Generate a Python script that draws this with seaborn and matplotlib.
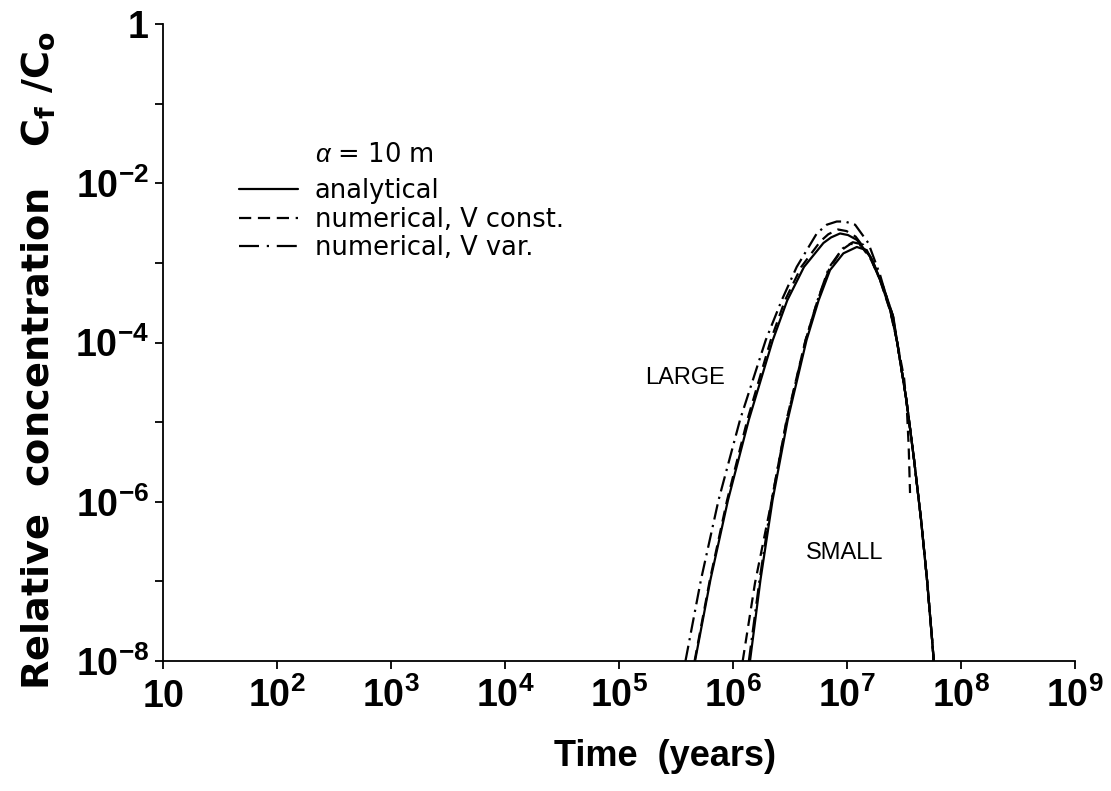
import numpy as np
import matplotlib
matplotlib.use("Agg")
import matplotlib.pyplot as plt
import seaborn as sns
from matplotlib.lines import Line2D
from matplotlib.ticker import NullLocator, FixedLocator, FixedFormatter

# ---- breakthrough curves, stored as log10(time [years]) and log10(Cf/Co) ----
# common falling limb shared by the curves once they merge
tail_logt = [7.436, 7.520, 7.588, 7.649, 7.701, 7.746, 7.760]
tail_logc = [-3.97, -4.72, -5.48, -6.23, -6.98, -7.74, -8.0]

large_analytical_logt = [5.666, 5.801, 5.955, 6.138, 6.348, 6.475, 6.622, 6.792, 6.859, 6.938,
                         7.008, 7.085, 7.201, 7.289, 7.377] + tail_logt
large_analytical_logc = [-8.0, -6.98, -5.98, -4.97, -3.97, -3.47, -3.05, -2.75, -2.68, -2.63,
                         -2.65, -2.71, -2.92, -3.21, -3.59] + tail_logc

large_vconst_logt = [5.662, 5.796, 5.947, 6.125, 6.330, 6.455, 6.598, 6.765, 6.835, 6.920,
                     6.995, 7.075, 7.195, 7.285, 7.375] + tail_logt
large_vconst_logc = [-8.0, -6.98, -5.98, -4.97, -3.97, -3.47, -3.05, -2.73, -2.64, -2.58,
                     -2.60, -2.67, -2.90, -3.20, -3.59] + tail_logc

large_vvar_logt = [5.582, 5.718, 5.872, 6.061, 6.286, 6.426, 6.558, 6.734, 6.822, 6.909,
                   6.980, 7.070, 7.186, 7.289, 7.380] + tail_logt
large_vvar_logc = [-8.0, -6.98, -5.98, -4.97, -3.97, -3.47, -3.05, -2.63, -2.52, -2.48,
                   -2.48, -2.52, -2.75, -3.15, -3.60] + tail_logc

small_analytical_logt = [6.148, 6.240, 6.346, 6.479, 6.644, 6.750, 6.850, 6.967, 7.085, 7.172,
                         7.230, 7.318, 7.406] + tail_logt
small_analytical_logc = [-8.0, -6.98, -5.98, -4.97, -3.97, -3.47, -3.09, -2.88, -2.80, -2.84,
                         -3.00, -3.30, -3.68] + tail_logc

small_vconst_logt = [6.084, 6.192, 6.339, 6.469, 6.635, 6.741, 6.842, 6.95, 7.03, 7.12, 7.21,
                     7.31, 7.40, 7.436, 7.50, 7.523, 7.54, 7.552]
small_vconst_logc = [-8.0, -7.02, -5.98, -4.97, -3.97, -3.47, -3.08, -2.84, -2.76, -2.78, -2.96,
                     -3.28, -3.66, -3.97, -4.45, -4.80, -5.30, -5.89]

small_vvar_logt = [6.138, 6.232, 6.338, 6.472, 6.636, 6.743, 6.840, 6.960, 7.050, 7.140, 7.220,
                   7.310, 7.400] + tail_logt
small_vvar_logc = [-8.0, -6.98, -5.98, -4.97, -3.97, -3.46, -3.06, -2.82, -2.74, -2.77, -2.96,
                   -3.28, -3.66] + tail_logc

# ---- axis ticks ----
x_tick_exps = [1, 2, 3, 4, 5, 6, 7, 8, 9]
x_tick_labels = ["10", "10^{2}", "10^{3}", "10^{4}", "10^{5}", "10^{6}", "10^{7}", "10^{8}", "10^{9}"]
y_tick_exps = [-8, -7, -6, -5, -4, -3, -2, -1, 0]
y_tick_labels = ["10^{-8}", "", "10^{-6}", "", "10^{-4}", "", "10^{-2}", "", "1"]

legend_labels = ["analytical", "numerical, V const.", "numerical, V var."]

# ---- style ----
sns.set_theme(style="ticks")
plt.rcParams.update({
    "font.family": ["DejaVu Sans"],
    "text.color": "black",
    "axes.labelcolor": "black",
    "mathtext.fontset": "custom",
    "mathtext.rm": "Liberation Sans",
    "mathtext.it": "Liberation Sans:italic",
    "mathtext.bf": "Liberation Sans:bold",
    "mathtext.sf": "DejaVu Sans:bold",
    "axes.linewidth": 1.3,
    "axes.edgecolor": "black",
    "xtick.color": "black",
    "ytick.color": "black",
    "xtick.major.width": 1.3,
    "ytick.major.width": 1.3,
    "xtick.major.size": 6,
    "ytick.major.size": 6,
    "xtick.direction": "out",
    "ytick.direction": "out",
})

SOLID = "-"
DASHED = (0, (5.0, 3.0))
DASHDOT = (0, (7.0, 2.5, 1.0, 2.5))
LW = 1.6

fig = plt.figure(figsize=(11.11, 7.91), dpi=100)
ax = fig.add_axes([0.1468, 0.1643, 0.8209, 0.8053])
ax.set_xscale("log")
ax.set_yscale("log")

curves = [
    (large_analytical_logt, large_analytical_logc, SOLID),
    (large_vconst_logt, large_vconst_logc, DASHED),
    (large_vvar_logt, large_vvar_logc, DASHDOT),
    (small_analytical_logt, small_analytical_logc, SOLID),
    (small_vconst_logt, small_vconst_logc, DASHED),
    (small_vvar_logt, small_vvar_logc, DASHDOT),
]
for logt, logc, ls in curves:
    sns.lineplot(x=10.0 ** np.asarray(logt), y=10.0 ** np.asarray(logc), ax=ax,
                 color="black", linewidth=LW, linestyle=ls, sort=False,
                 estimator=None, legend=False)

ax.set_xlim(10, 1e9)
ax.set_ylim(1e-8, 1)
sns.despine(ax=ax)

# ticks: one per decade, bold labels with superscripts
ax.xaxis.set_major_locator(FixedLocator([10.0 ** e for e in x_tick_exps]))
ax.xaxis.set_major_formatter(FixedFormatter([r"$\mathbf{%s}$" % s for s in x_tick_labels]))
ax.xaxis.set_minor_locator(NullLocator())
ax.yaxis.set_major_locator(FixedLocator([10.0 ** e for e in y_tick_exps]))
ax.yaxis.set_major_formatter(FixedFormatter([r"$\mathbf{%s}$" % s if s else "" for s in y_tick_labels]))
ax.yaxis.set_minor_locator(NullLocator())
ax.tick_params(axis="x", labelsize=27, pad=27)
ax.tick_params(axis="y", labelsize=27, pad=4)
for lab in ax.get_xticklabels():
    lab.set_verticalalignment("baseline")

# axis titles
ax.set_ylabel(r"Relative  concentration   C$_\mathsf{f}$ /C$_\mathsf{o}$",
              fontsize=27.5, fontweight="bold")
ax.yaxis.set_label_coords(-0.116, 0.4725)
ax.set_xlabel("Time  (years)", fontsize=26, fontweight="bold",
              family=["Liberation Sans", "DejaVu Sans"])
ax.xaxis.set_label_coords(0.5504, -0.123)

# curve labels
ax.text(10 ** 5.578, 10 ** -4.445, "LARGE", fontsize=17, ha="center", va="center",
        family=["Liberation Sans", "DejaVu Sans"])
ax.text(10 ** 6.982, 10 ** -6.643, "SMALL", fontsize=17, ha="center", va="center",
        family=["Liberation Sans", "DejaVu Sans"])

# legend with the dispersivity header
handles = [
    Line2D([], [], color="black", lw=LW, linestyle=SOLID),
    Line2D([], [], color="black", lw=LW, linestyle=(0, (5.5, 3.0))),
    Line2D([], [], color="black", lw=LW, linestyle=(0, (9.0, 3.5, 1.0, 3.5))),
]
ax.legend(handles, legend_labels, loc="upper left", bbox_to_anchor=(0.0833, 0.758),
          frameon=False, borderpad=0, borderaxespad=0, handlelength=2.3,
          handletextpad=0.65, labelspacing=0.1, fontsize=18.5)
ax.text(0.1667, 0.795, r"$\alpha$ = 10 m", transform=ax.transAxes, fontsize=18.5,
        va="center", ha="left")

fig.savefig("out.png", dpi=100)
